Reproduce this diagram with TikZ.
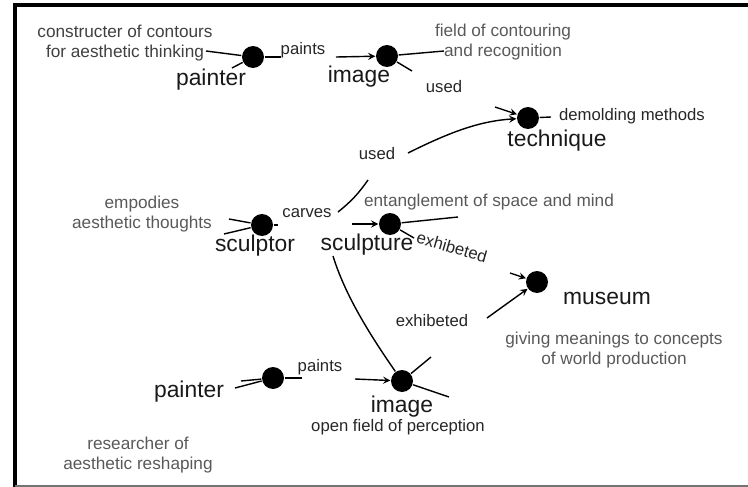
\documentclass[tikz,border=0pt]{standalone}
\usepackage{fontspec}
\setmainfont{Liberation Sans}
\usepackage{tikz}
\usetikzlibrary{arrows}

\begin{document}
\begin{tikzpicture}[x=0.02cm,y=-0.02cm,>=stealth,line width=0.8pt,
  dot/.style={circle,fill=black,inner sep=0pt,minimum size=0.44cm},
  big/.style={font=\fontsize{13}{14}\selectfont,text=black!90},
  rel/.style={font=\fontsize{9.5}{11}\selectfont,text=black!85},
  note/.style={font=\fontsize{9.8}{11.2}\selectfont,text=black!65,align=center}]
\useasboundingbox (0,0) rectangle (748,487);
\draw[line width=2.2pt] (15,487) -- (15,5) -- (748,5);
\draw[black!55,line width=1pt] (15,486) -- (748,486);
% painter / image (top)
\node[dot] (pa1) at (253,57) {};
\node[big] (pa1l) at (211,80) {painter};
\node[note,text=black!75] (pa1n) at (125,43) {constructer of contours\\for aesthetic thinking};
\coordinate (pa1a) at (206,51);
\coordinate (pa1b) at (232,68);
\coordinate (pa1r) at (281,57);
\draw (pa1a) -- (pa1);
\draw (pa1b) -- (pa1);
\draw (pa1) -- (pa1r);
\node[rel] (paints1) at (303,50) {paints};
\node[dot] (im1) at (387,56) {};
\coordinate (ar1) at (336,57);
\draw[->] (ar1) -- (im1);
\node[big] (im1l) at (359,77) {image};
\node[note] (im1n) at (503,42) {field of contouring\\and recognition};
\coordinate (im1a) at (444,51);
\coordinate (im1u) at (412,71);
\draw (im1) -- (im1a);
\draw (im1) -- (im1u);
\node[rel] (used1) at (444,87) {used};
% technique
\node[dot] (te) at (528,118) {};
\node[big] (tel) at (557,141) {technique};
\node[rel] (ten) at (632,116) {demolding methods};
\coordinate (ter) at (551,117);
\coordinate (tea) at (495,107);
\draw (te) -- (ter);
\draw[->] (tea) -- (te);
\node[rel] (used2) at (377,154) {used};
\coordinate (us2) at (408,153);
\draw[->] (us2) .. controls (450,132) and (480,121) .. (te);
% sculptor / sculpture
\node[dot] (sr) at (262,225) {};
\node[big] (srl) at (255,246) {sculptor};
\node[note] (srn) at (142,214) {empodies\\aesthetic thoughts};
\coordinate (sra) at (229,219);
\coordinate (srb) at (224,234);
\coordinate (srr) at (278,225);
\draw (sra) -- (sr);
\draw (srb) -- (sr);
\draw (sr) -- (srr);
\node[rel] (carves) at (307,213) {carves};
\coordinate (cva) at (338,212);
\coordinate (cvb) at (368,180);
\draw (cva) to[bend right=8] (cvb);
\node[dot] (sc) at (390,224) {};
\coordinate (ar2) at (352,224);
\draw[->] (ar2) -- (sc);
\node[big] (scl) at (367,245) {sculpture};
\node[note] (scn) at (489,202) {entanglement of space and mind};
\coordinate (sca) at (458,217);
\coordinate (sce) at (414,238);
\draw (sc) -- (sca);
\draw (sc) -- (sce);
\node[rel,rotate=-16] (exh1) at (452,247) {exhibeted};
% museum
\node[dot] (mu) at (537,282) {};
\node[big] (mul) at (607,298) {museum};
\node[note] (mun) at (614,350) {giving meanings to concepts\\of world production};
\coordinate (mua) at (510,273);
\coordinate (mub) at (487,318);
\draw[->] (mua) -- (mu);
\draw[->] (mub) -- (mu);
\node[rel] (exh2) at (432,321) {exhibeted};
% painter / image (bottom)
\node[dot] (pa2) at (273,378) {};
\node[big] (pa2l) at (189,392) {painter};
\node[note] (pa2n) at (138,455) {researcher of\\aesthetic reshaping};
\coordinate (pa2a) at (235,388);
\coordinate (pa2b) at (241,381);
\coordinate (pa2r) at (302,378);
\draw (pa2a) -- (pa2);
\draw (pa2b) -- (pa2);
\draw (pa2) -- (pa2r);
\node[rel] (paints2) at (320,367) {paints};
\node[dot] (im2) at (402,381) {};
\coordinate (ar3) at (355,379);
\draw[->] (ar3) -- (im2);
\node[big] (im2l) at (402,407) {image};
\node[rel] (im2n) at (398,427) {open field of perception};
\coordinate (im2a) at (431,357);
\coordinate (im2b) at (449,397);
\draw (im2) -- (im2a);
\draw (im2) -- (im2b);
\coordinate (scd) at (333,256);
\draw (scd) .. controls (345,295) and (370,335) .. (im2);
\end{tikzpicture}
\end{document}
